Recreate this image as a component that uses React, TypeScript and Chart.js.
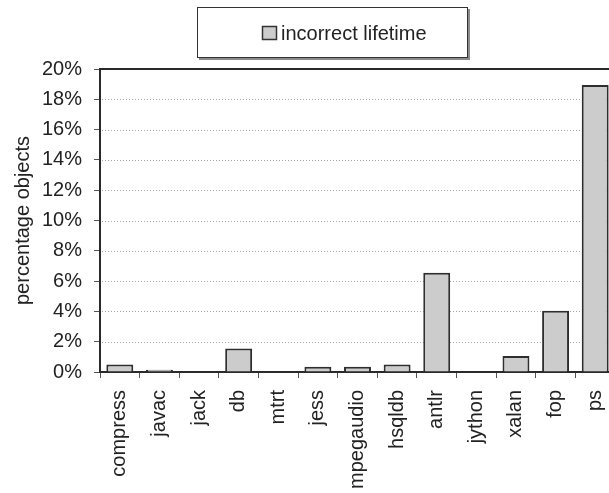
import React, { useEffect, useRef } from "react";
import { Chart, registerables } from "chart.js";

Chart.register(...registerables);

const categories = ["compress", "javac", "jack", "db", "mtrt", "jess", "mpegaudio", "hsqldb", "antlr", "jython", "xalan", "fop", "ps"];
const incorrectLifetime = [0.5, 0.15, 0, 1.55, 0, 0.35, 0.35, 0.5, 6.55, 0, 1.05, 4.05, 18.95];
const seriesLabel = "incorrect lifetime";
const yTitle = "percentage objects";
const yMin = 0;
const yMax = 20;
const yStep = 2;

const FONT = "'Liberation Sans', Arial, sans-serif";
const TEXT = "#222";
const DARK = "#2a2a2a";

const framePlugin = {
  id: "frame",
  beforeDatasetsDraw(chart: any) {
    const { ctx, chartArea, scales } = chart;
    const y = scales.y;
    ctx.save();
    ctx.strokeStyle = "#a8a8a8";
    ctx.lineWidth = 1;
    ctx.setLineDash([1, 2]);
    for (let v = yMin + yStep; v < yMax; v += yStep) {
      const py = Math.round(y.getPixelForValue(v)) + 0.5;
      ctx.beginPath();
      ctx.moveTo(chartArea.left + 2, py);
      ctx.lineTo(chartArea.right, py);
      ctx.stroke();
    }
    ctx.restore();
  },
  afterDraw(chart: any) {
    const { ctx, chartArea } = chart;
    ctx.save();
    ctx.strokeStyle = DARK;
    ctx.lineWidth = 2;
    ctx.beginPath();
    ctx.moveTo(chartArea.left, chartArea.top);
    ctx.lineTo(chartArea.right, chartArea.top);
    ctx.lineTo(chartArea.right, chartArea.bottom);
    ctx.stroke();

    // legend box
    const lx = 197, ly = 7, lw = 271, lh = 51;
    ctx.fillStyle = "#8c8c8c";
    ctx.fillRect(lx + 2, ly + 2, lw, lh);
    ctx.fillStyle = "#ffffff";
    ctx.fillRect(lx, ly, lw, lh);
    ctx.strokeStyle = "#333";
    ctx.lineWidth = 1;
    ctx.strokeRect(lx + 0.5, ly + 0.5, lw - 1, lh - 1);
    ctx.fillStyle = "#cccccc";
    ctx.fillRect(262, 26, 15, 14);
    ctx.strokeStyle = "#333";
    ctx.lineWidth = 1.5;
    ctx.strokeRect(262.5, 26.5, 14, 13);
    ctx.fillStyle = TEXT;
    ctx.font = `20px ${FONT}`;
    ctx.textBaseline = "middle";
    ctx.textAlign = "left";
    ctx.fillText(chart.data.datasets[0].label, 281, 34);
    ctx.restore();
  },
};

export default function App() {
  const ref = useRef<HTMLCanvasElement>(null);
  useEffect(() => {
    const canvas = ref.current!;
    const chart = new Chart(canvas, {
      type: "bar",
      data: {
        labels: categories,
        datasets: [
          {
            label: seriesLabel,
            data: incorrectLifetime,
            backgroundColor: "#cccccc",
            borderColor: "#2e2e2e",
            borderWidth: 2,
            barPercentage: 0.68,
            categoryPercentage: 1,
          },
        ],
      },
      options: {
        animation: false,
        responsive: false,
        devicePixelRatio: 1,
        layout: { padding: { top: 69, right: 10, left: 0, bottom: 0 } },
        plugins: { legend: { display: false }, tooltip: { enabled: false } },
        scales: {
          x: {
            offset: true,
            grid: { offset: true, drawOnChartArea: false, tickLength: 6, tickColor: "#555", tickWidth: 1 },
            border: { color: DARK, width: 2 },
            ticks: {
              minRotation: 90,
              maxRotation: 90,
              autoSkip: false,
              padding: 12,
              color: TEXT,
              font: { family: FONT, size: 20 },
            },
            afterFit: (s: any) => {
              s.height = 121;
              s.paddingLeft = 0;
              s.paddingRight = 0;
            },
          },
          y: {
            min: yMin,
            max: yMax,
            grid: { drawOnChartArea: false, tickLength: 6, tickColor: "#555", tickWidth: 1 },
            border: { color: DARK, width: 2 },
            ticks: {
              stepSize: yStep,
              padding: 12,
              color: TEXT,
              font: { family: FONT, size: 20 },
              callback: (v: any) => `${v}%`,
            },
            title: {
              display: true,
              text: yTitle,
              color: TEXT,
              font: { family: FONT, size: 20 },
              padding: { top: 11, bottom: 0 },
            },
            afterFit: (s: any) => {
              s.width = 100;
              s.paddingTop = 0;
              s.paddingBottom = 0;
            },
          },
        },
      },
      plugins: [framePlugin],
    });
    return () => chart.destroy();
  }, []);
  return (
    <div style={{ position: "fixed", left: 0, top: 0, width: 609, height: 493, overflow: "hidden", background: "#fff" }}>
      <canvas ref={ref} width={625} height={493} style={{ display: "block", width: 625, height: 493 }} />
    </div>
  );
}
